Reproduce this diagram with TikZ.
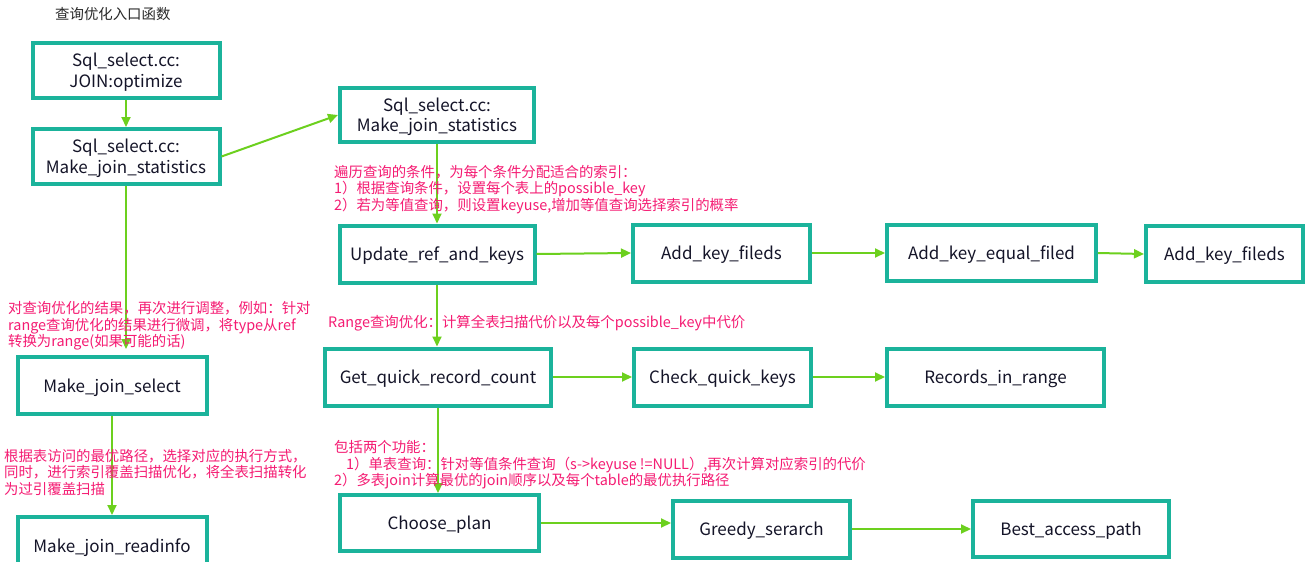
\documentclass[tikz,border=0pt]{standalone}
\usepackage{fontspec}
\setmainfont{Noto Sans CJK SC}
\usetikzlibrary{arrows.meta}
\definecolor{teal1}{RGB}{27,179,155}
\definecolor{grn}{RGB}{108,208,30}
\definecolor{pink1}{RGB}{245,28,115}
\definecolor{ink}{RGB}{20,20,40}
\definecolor{titlegray}{RGB}{40,40,40}
\newcommand\bxt[1]{\raisebox{-2.5pt}[\height][\depth]{\begin{tabular}{@{}c@{}}#1\end{tabular}}}
\begin{document}
\begin{tikzpicture}[x=1pt,y=-1pt,
  box/.style={draw=teal1, line width=4pt, fill=white, align=center, inner sep=0pt, text=ink, font=\fontsize{17}{20.5}\selectfont},
  conn/.style={draw=grn, line width=2pt, -{Triangle[length=10pt,width=9pt]}},
  ann/.style={text=pink1, anchor=base west, inner sep=0pt, font=\fontsize{14.4}{17}\selectfont}]
\useasboundingbox (0,0) rectangle (1309,562);
\clip (0,0) rectangle (1309,562);
\fill[white] (0,0) rectangle (1309,562);

\node[box, minimum width=187pt, minimum height=55pt] (opt) at (126,70.5) {\bxt{Sql\_select.cc:\\JOIN:optimize}};
\node[box, minimum width=187pt, minimum height=55pt] (mjs1) at (126,156.5) {\bxt{Sql\_select.cc:\\Make\_join\_statistics}};
\node[box, minimum width=194pt, minimum height=54pt] (mjs2) at (437,115) {\bxt{Sql\_select.cc:\\Make\_join\_statistics}};
\node[box, minimum width=195pt, minimum height=57pt] (upd) at (437,254) {\bxt{Update\_ref\_and\_keys}};
\node[box, minimum width=177pt, minimum height=57pt] (akf1) at (721.5,253) {\bxt{Add\_key\_fileds}};
\node[box, minimum width=209pt, minimum height=56pt] (akef) at (991.5,253) {\bxt{Add\_key\_equal\_filed}};
\node[box, minimum width=157pt, minimum height=56pt] (akf2) at (1224.5,254) {\bxt{Add\_key\_fileds}};
\node[box, minimum width=189pt, minimum height=57pt] (mjsel) at (112,385.5) {\bxt{Make\_join\_select}};
\node[box, minimum width=226pt, minimum height=57pt] (gqrc) at (438,377) {\bxt{Get\_quick\_record\_count}};
\node[box, minimum width=177pt, minimum height=57pt] (cqk) at (722.5,377) {\bxt{Check\_quick\_keys}};
\node[box, minimum width=217pt, minimum height=57pt] (rir) at (995.5,377) {\bxt{Records\_in\_range}};
\node[box, minimum width=189pt, minimum height=57pt] (mjri) at (112,545.5) {\bxt{Make\_join\_readinfo}};
\node[box, minimum width=199pt, minimum height=56pt] (chp) at (439.5,523) {\bxt{Choose\_plan}};
\node[box, minimum width=177pt, minimum height=57pt] (grd) at (761.5,529) {\bxt{Greedy\_serarch}};
\node[box, minimum width=196pt, minimum height=56pt] (bap) at (1071,529) {\bxt{Best\_access\_path}};

\draw[conn] (opt) -- (mjs1);
\draw[conn] (mjs1.east) -- (mjs2.west);
\draw[conn] (mjs2.south) -- (mjs2.south |- upd.north);
\draw[conn] (upd.east) -- (akf1.west);
\draw[conn] (akf1.east) -- (akef.west);
\draw[conn] (akef.east) -- (akf2.west);
\draw[conn] (upd.south) -- (upd.south |- gqrc.north);
\draw[conn] (gqrc.east) -- (cqk.west);
\draw[conn] (cqk.east) -- (rir.west);
\draw[conn] (gqrc.south) -- (gqrc.south |- chp.north);
\draw[conn] (chp.east) -- (chp.east -| grd.west);
\draw[conn] (grd.east) -- (bap.west);
\draw[conn, shorten >=6pt] (mjs1.south) -- (mjs1.south |- mjsel.north);
\draw[conn] (mjsel.south) -- (mjsel.south |- mjri.north);

\node[ann, text=titlegray] (t0) at (55,19.5) {查询优化入口函数};
\node[ann] (ann1a) at (334,177) {遍历查询的条件，为每个条件分配适合的索引：};
\node[ann] (ann1b) at (334,193.5) {1）根据查询条件，设置每个表上的possible\_key};
\node[ann] (ann1c) at (334,210) {2）若为等值查询，则设置keyuse,增加等值查询选择索引的概率};
\node[ann] (ann2a) at (8,313.5) {对查询优化的结果，再次进行调整，例如：针对};
\node[ann] (ann2b) at (8,330) {range查询优化的结果进行微调，将type从ref};
\node[ann] (ann2c) at (8,346) {转换为range(如果可能的话)};
\node[ann] (ann3) at (328,327) {Range查询优化：计算全表扫描代价以及每个possible\_key中代价};
\node[ann] (ann4a) at (4,461) {根据表访问的最优路径，选择对应的执行方式，};
\node[ann] (ann4b) at (4,477) {同时，进行索引覆盖扫描优化，将全表扫描转化};
\node[ann] (ann4c) at (4,494) {为过引覆盖扫描};
\node[ann] (ann5a) at (334,452.5) {包括两个功能：};
\node[ann] (ann5b) at (346,469) {1）单表查询：针对等值条件查询（s->keyuse !=NULL）,再次计算对应索引的代价};
\node[ann] (ann5c) at (334,485.5) {2）多表join计算最优的join顺序以及每个table的最优执行路径};
\end{tikzpicture}
\end{document}
